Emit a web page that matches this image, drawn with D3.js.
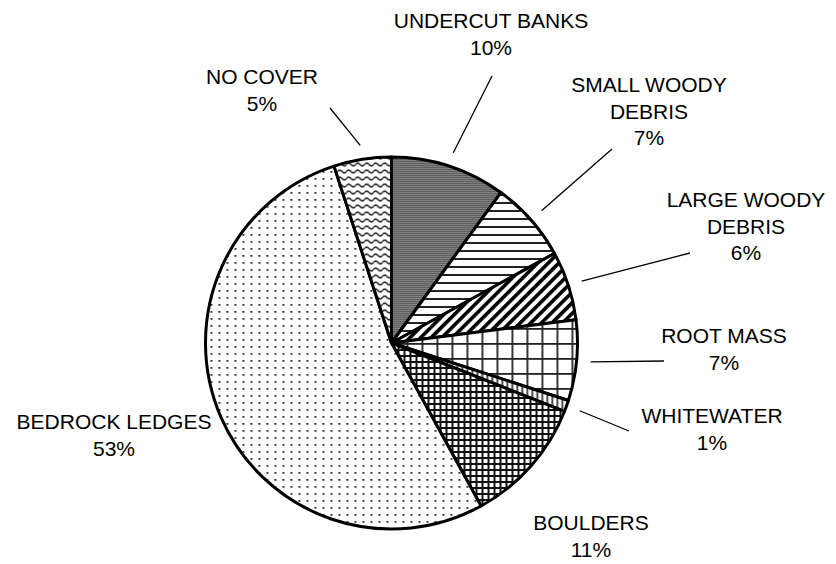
<!DOCTYPE html>
<html>
<head>
<meta charset="utf-8">
<script src="https://cdn.jsdelivr.net/npm/d3@7"></script>
<style>
  html, body { margin: 0; padding: 0; background: #fff; }
  svg { display: block; }
  text { font-family: "Liberation Sans", Arial, sans-serif; font-size: 21px; fill: #000; }
</style>
</head>
<body>
<svg id="chart" width="836" height="564"></svg>
<script>
// Stream cover types, share of habitat (%), clockwise from 12 o'clock
const categories = ["UNDERCUT BANKS", "SMALL WOODY DEBRIS", "LARGE WOODY DEBRIS", "ROOT MASS",
                    "WHITEWATER", "BOULDERS", "BEDROCK LEDGES", "NO COVER"];
const shares = [10, 7, 6, 7, 1, 11, 53, 5];

// Label placement: text centre, first baseline, words on the first line, leader end
const labelLayout = [
  { x: 491, y: 28,  firstLine: 2, leader: [492, 76] },
  { x: 649, y: 92,  firstLine: 2, leader: [612, 149] },
  { x: 746, y: 207, firstLine: 2, leader: [690, 253] },
  { x: 724, y: 343, firstLine: 2, leader: [664, 361] },
  { x: 712, y: 423, firstLine: 1, leader: [629, 431] },
  { x: 591, y: 530, firstLine: 1, leader: null },
  { x: 114, y: 429, firstLine: 2, leader: null },
  { x: 262, y: 84,  firstLine: 2, leader: [330, 108] }
];

const cx = 391.5, cy = 343, radius = 186, leaderRadius = 200, lineHeight = 26.7;

const svg = d3.select("#chart");
const defs = svg.append("defs");

function pattern(id, w, h, transform) {
  const p = defs.append("pattern")
    .attr("id", id)
    .attr("patternUnits", "userSpaceOnUse")
    .attr("width", w).attr("height", h);
  if (transform) p.attr("patternTransform", transform);
  p.append("rect").attr("width", w).attr("height", h).attr("fill", "#fff");
  return p;
}

// Fill patterns, one per cover type
{
  // fine checker
  const p = pattern("fill-0", 2, 2);
  p.append("rect").attr("x", 0).attr("y", 0).attr("width", 1).attr("height", 1).attr("fill", "#000");
  p.append("rect").attr("x", 1).attr("y", 1).attr("width", 1).attr("height", 1).attr("fill", "#000");
  p.append("rect").attr("x", 1).attr("y", 0).attr("width", 1).attr("height", 1).attr("fill", "#bbb");
}
{
  // horizontal lines
  const p = pattern("fill-1", 8, 8);
  p.append("rect").attr("x", 0).attr("y", 3).attr("width", 8).attr("height", 2).attr("fill", "#222");
}
{
  // wide upward diagonal
  const p = pattern("fill-2", 7.5, 7.5, "rotate(45)");
  p.append("rect").attr("x", 0).attr("y", 0).attr("width", 3.6).attr("height", 7.5).attr("fill", "#000");
}
{
  // large grid
  const p = pattern("fill-3", 15, 15);
  p.append("rect").attr("x", 0).attr("y", 0).attr("width", 15).attr("height", 1.8).attr("fill", "#222");
  p.append("rect").attr("x", 0).attr("y", 0).attr("width", 1.8).attr("height", 15).attr("fill", "#222");
}
{
  // vertical lines
  const p = pattern("fill-4", 5, 5);
  p.append("rect").attr("x", 0).attr("y", 0).attr("width", 1.6).attr("height", 5).attr("fill", "#222");
}
{
  // small grid
  const p = pattern("fill-5", 6, 6);
  p.append("rect").attr("x", 0).attr("y", 0).attr("width", 6).attr("height", 2).attr("fill", "#111");
  p.append("rect").attr("x", 0).attr("y", 0).attr("width", 2).attr("height", 6).attr("fill", "#111");
}
{
  // sparse dots
  const p = pattern("fill-6", 8, 7);
  p.append("rect").attr("x", 3).attr("y", 3).attr("width", 1.8).attr("height", 1.8).attr("fill", "#222");
}
{
  // wave
  const p = pattern("fill-7", 9, 7);
  p.append("path")
    .attr("d", "M0,3.5 Q2.25,0.8 4.5,3.5 T9,3.5")
    .attr("fill", "none").attr("stroke", "#333").attr("stroke-width", 1.6);
}

const pie = d3.pie().sort(null).value(d => d.value).startAngle(0).endAngle(2 * Math.PI);
const data = categories.map((c, i) => ({ category: c, value: shares[i], index: i }));
const arcs = pie(data);

const arc = d3.arc().innerRadius(0).outerRadius(radius);
const leaderArc = d3.arc().innerRadius(leaderRadius).outerRadius(leaderRadius);

const g = svg.append("g").attr("transform", `translate(${cx},${cy})`);

g.selectAll("path.slice")
  .data(arcs)
  .join("path")
  .attr("class", "slice")
  .attr("d", arc)
  .attr("fill", d => `url(#fill-${d.data.index})`)
  .attr("stroke", "#000")
  .attr("stroke-width", 3)
  .attr("stroke-linejoin", "round");

// Leader lines from just outside each slice to its label
g.selectAll("line.leader")
  .data(arcs.filter(d => labelLayout[d.data.index].leader))
  .join("line")
  .attr("class", "leader")
  .attr("x1", d => leaderArc.centroid(d)[0])
  .attr("y1", d => leaderArc.centroid(d)[1])
  .attr("x2", d => labelLayout[d.data.index].leader[0] - cx)
  .attr("y2", d => labelLayout[d.data.index].leader[1] - cy)
  .attr("stroke", "#000")
  .attr("stroke-width", 1.3);

// Category and percentage labels
const labels = svg.selectAll("text.label")
  .data(arcs)
  .join("text")
  .attr("class", "label")
  .attr("text-anchor", "middle");

labels.each(function (d) {
  const lay = labelLayout[d.data.index];
  const words = d.data.category.split(" ");
  const lines = [words.slice(0, lay.firstLine).join(" ")];
  if (words.length > lay.firstLine) lines.push(words.slice(lay.firstLine).join(" "));
  lines.push(d.data.value + "%");
  d3.select(this).selectAll("tspan")
    .data(lines)
    .join("tspan")
    .attr("x", lay.x)
    .attr("y", (t, k) => lay.y + k * lineHeight)
    .text(t => t);
});
</script>
</body>
</html>
